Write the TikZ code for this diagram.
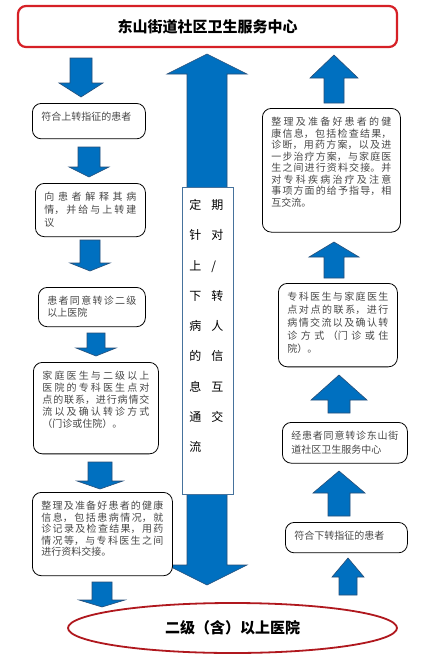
\documentclass[tikz,border=0pt]{standalone}
\usepackage{fontspec}
\setmainfont{Noto Sans CJK SC}
\usetikzlibrary{shapes.geometric}
\XeTeXlinebreaklocale "zh"
\XeTeXlinebreakskip=0pt plus 6pt
\hbadness=10000
\tolerance=10000

\definecolor{flowRed}{RGB}{214,32,38}
\definecolor{flowDarkRed}{RGB}{176,24,30}
\definecolor{flowBlue}{RGB}{0,112,192}
\definecolor{flowBlueEdge}{RGB}{38,78,120}
\definecolor{flowFrame}{RGB}{70,114,156}
\definecolor{flowText}{RGB}{72,72,72}
\newcommand{\boxpad}[1]{\par\vskip#1\hrule height0pt width0pt\relax}

\begin{document}
\begin{tikzpicture}[x=1pt,y=-1pt,
      headline/.style={font=\fontsize{15}{18}\selectfont\bfseries, text=black},
      stepbox/.style={draw=black, fill=white, line width=.8pt,
        rounded corners=9pt, anchor=north west, inner xsep=9pt,
        inner ysep=9pt, align=justify,
        font=\fontsize{10}{12}\selectfont, text=flowText},
      flowarrow/.style={fill=flowBlue, draw=flowBlueEdge, line width=.6pt,
        line join=miter}]
      \useasboundingbox (0,0) rectangle (425,670);
      \fill[white] (0,0) rectangle (425,670);

      \node[headline, draw=flowRed, line width=2.2pt, rounded corners=8pt,
        minimum width=379pt, minimum height=41pt] (title) at (207.5,26.5)
        {东山街道社区卫生服务中心};
      \node[headline, ellipse, draw=flowDarkRed, line width=1.8pt,
        minimum width=329pt, minimum height=50pt] (hospital) at (232.5,628)
        {二级（含）以上医院};

      % block arrows: centre / shaft end / head base / tip / half shaft / half head
      \foreach \cx/\ys/\yh/\yt/\hs/\hh in {
          81/58/83/97/11/22, 89/147/167/177/11/20, 90/240/263/271/10/20,
          96/333/348/356/9/20, 100/462/481/489/12/23, 102/582/600/607/10/23,
          334/103/78/55/10/24, 334/278/257/242/10/25, 339/413/400/375/11/28,
          339/516/493/471/11/26, 348/595/577/558/9/16}{
        \path[flowarrow] ({\cx-\hs},\ys) -- ({\cx+\hs},\ys) -- ({\cx+\hs},\yh)
          -- ({\cx+\hh},\yh) -- (\cx,\yt) -- ({\cx-\hh},\yh)
          -- ({\cx-\hs},\yh) -- cycle;}
      \path[flowarrow] (207,54) -- (247,74) -- (227,74) -- (227,565)
        -- (247,565) -- (207,585) -- (167,565) -- (187,565) -- (187,74)
        -- (167,74) -- cycle;

      \node[draw=flowFrame, fill=white, line width=.7pt, anchor=north west,
        text width=37pt, inner xsep=7pt, inner ysep=12pt,
        align=left, font=\fontsize{12}{30.25}\selectfont, text=black]
        (info) at (182,187)
        {定\hspace{10pt}期\\针\hspace{10pt}对\\上\hspace{10pt}/\\
         下\hspace{10pt}转\\病\hspace{10pt}人\\的\hspace{10pt}信\\
         息\hspace{10pt}互\\通\hspace{10pt}交\\流\boxpad{30pt}};

      % upward referral, left column
      \node[stepbox, text width=95pt, text depth=9pt] (upstep1) at (32,103)
        {符合上转指征的患者};
      \node[stepbox, text width=92pt, font=\fontsize{10}{13}\selectfont]
        (upstep2) at (35,183)
        {向患者解释其病\linebreak 情，并给与上转建\linebreak 议};
      \node[stepbox, text width=89pt] (upstep3) at (38,287)
        {患者同意转诊二级\linebreak 以上医院};
      \node[stepbox, text width=107pt] (upstep4) at (33,362)
        {家庭医生与二级以上\linebreak 医院的专科医生点对\linebreak
         点的联系，进行病情交\linebreak 流以及确认转诊方式\linebreak
         （门诊或住院）。\boxpad{16pt}};
      \node[stepbox, text width=122pt, font=\fontsize{10}{11.5}\selectfont]
        (upstep5) at (32,492)
        {整理及准备好患者的健康\linebreak 信息，包括患病情况，就\linebreak
         诊记录及检查结果，用药\linebreak 情况等，与专科医生之间\linebreak
         进行资料交接。\boxpad{10pt}};

      % downward referral, right column
      \node[stepbox, text width=104pt, text depth=4pt] (downstep1) at (285,522)
        {符合下转指征的患者};
      \node[stepbox, text width=107pt, font=\fontsize{10}{13.5}\selectfont]
        (downstep2) at (282,422)
        {经患者同意转诊东山街\linebreak 道社区卫生服务中心};
      \node[stepbox, text width=101pt, font=\fontsize{10}{13}\selectfont]
        (downstep3) at (278,283)
        {专科医生与家庭医生\linebreak 点对点的联系，进行\linebreak
         病情交流以及确认转\linebreak 诊方式（门诊或住\linebreak 院）。\boxpad{4pt}};
      \node[stepbox, text width=120pt, font=\fontsize{10}{11.5}\selectfont]
        (downstep4) at (262,108)
        {整理及准备好患者的健\linebreak 康信息，包括检查结果，\linebreak
         诊断，用药方案，以及进\linebreak 一步治疗方案，与家庭医\linebreak
         生之间进行资料交接。并\linebreak 对专科疾病治疗及注意\linebreak
         事项方面的给予指导，相\linebreak 互交流。\boxpad{16pt}};
    \end{tikzpicture}
\end{document}
